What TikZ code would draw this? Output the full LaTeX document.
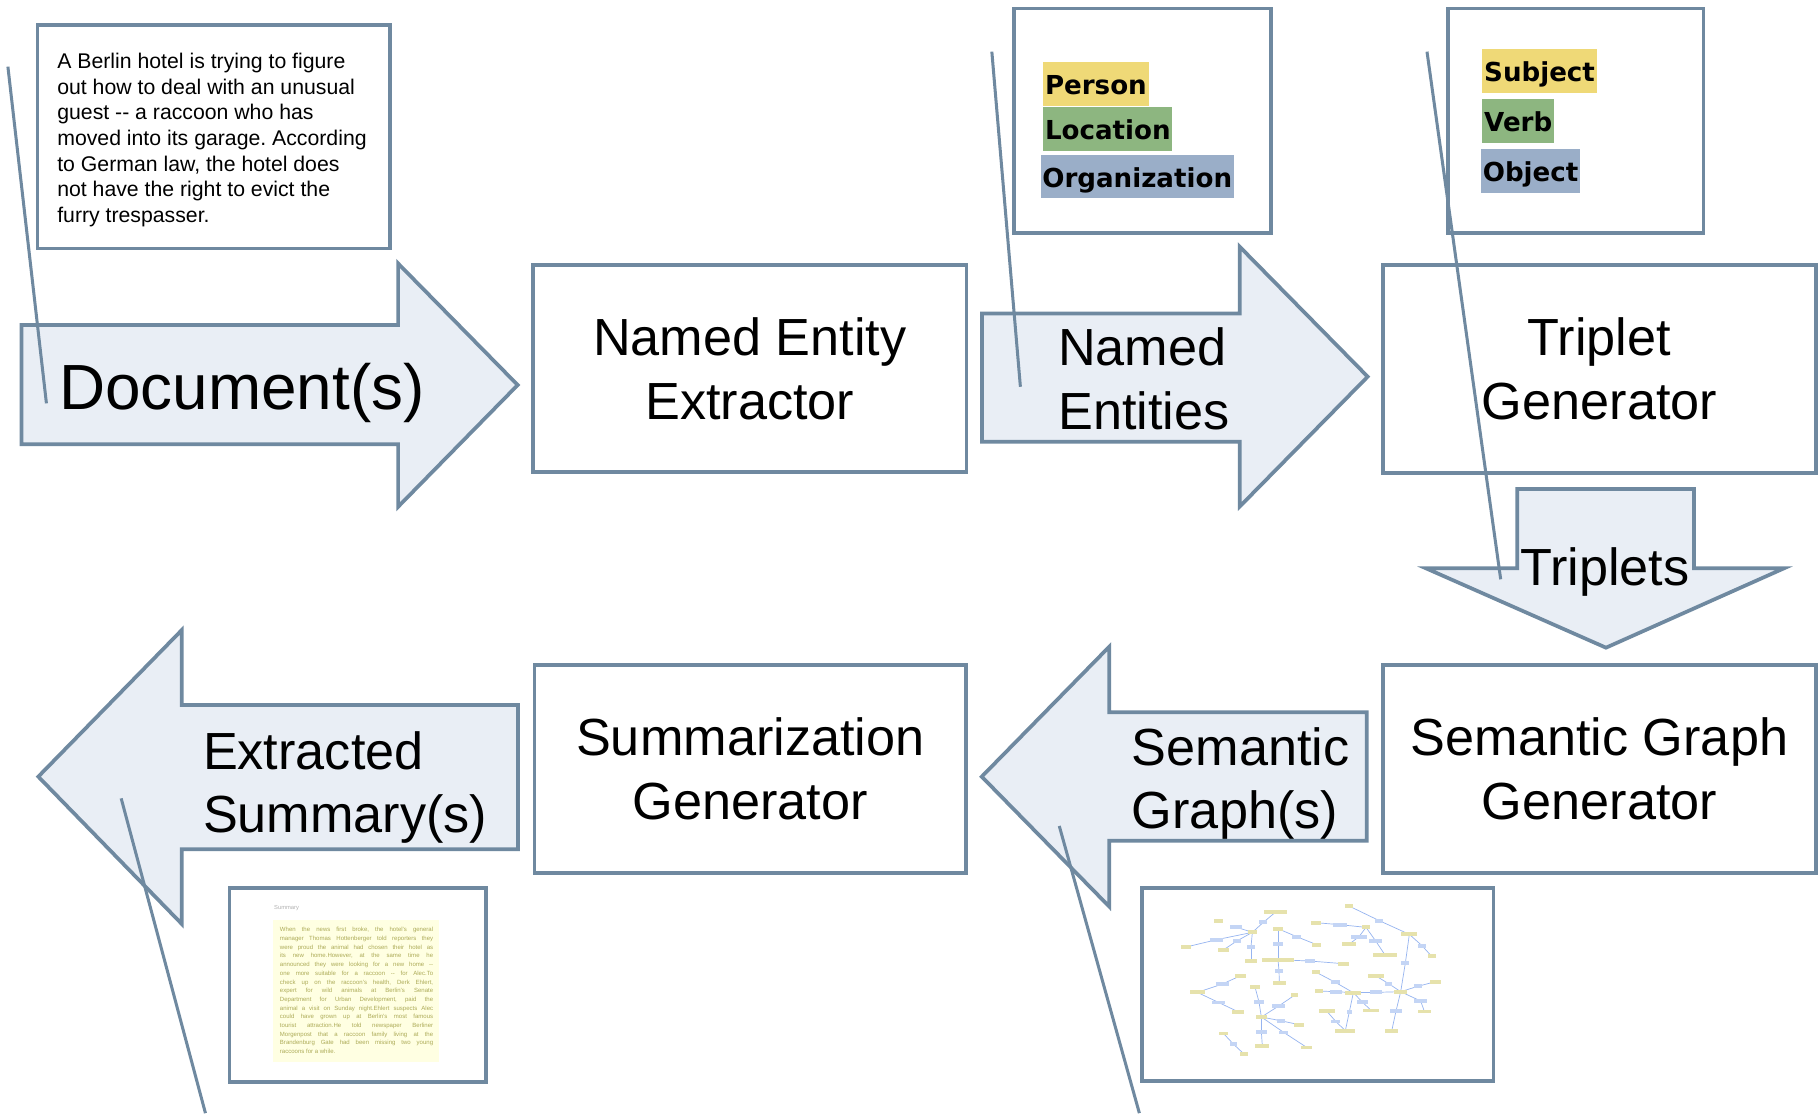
\documentclass[tikz,border=0pt]{standalone}
\usepackage{fontspec}
\setmainfont{Liberation Sans}
\newfontfamily\tagfont{DejaVu Sans}
\frenchspacing
\definecolor{slate}{RGB}{111,137,160}
\definecolor{arrowfill}{RGB}{233,238,245}
\definecolor{tagY}{RGB}{239,217,119}
\definecolor{tagG}{RGB}{141,182,128}
\definecolor{tagB}{RGB}{154,174,200}
\definecolor{sumbg}{RGB}{255,255,226}
\definecolor{sumtxt}{RGB}{172,170,86}
\definecolor{gY}{RGB}{230,226,172}
\definecolor{gB}{RGB}{196,213,245}
\definecolor{gE}{RGB}{150,180,240}
\newcommand{\sumln}[1]{\makebox[132pt][s]{#1}\\}
\begin{document}
\begin{tikzpicture}[x=1pt,y=-1pt,
  procbox/.style={draw=slate, line width=3.2pt, fill=white, inner sep=0pt, outer sep=0pt,
     align=center, font=\fontsize{45}{55}\selectfont},
  plainbox/.style={draw=slate, line width=3.2pt, fill=white, inner sep=0pt, outer sep=0pt},
  flowarrow/.style={draw=slate, line width=3.2pt, fill=arrowfill, line join=miter},
  arrowlabel/.style={inner sep=0pt, align=left, font=\fontsize{45}{54.5}\selectfont, anchor=north west},
  tagbox/.style={font=\tagfont\bfseries\fontsize{22.5}{22.5}\selectfont, inner xsep=1.5pt, inner ysep=0pt,
     text height=28pt, text depth=9.4pt, anchor=base west},
  callout/.style={draw=slate, line width=2.6pt},
  gy/.style={fill=gY, inner sep=0pt, minimum height=3.2pt},
  gb/.style={fill=gB, inner sep=0pt, minimum height=3.2pt},
  gedge/.style={draw=gE, line width=0.6pt}]

\fill[white] (0,0) rectangle (1568,959);
\useasboundingbox (0,0) rectangle (1568,959);

% ---------- top row ----------
\node[plainbox, minimum width=303.7pt, minimum height=192.5pt, anchor=north west] (docbox) at (32.3,21.5) {};
\node[inner sep=0pt, anchor=north west, align=left, font=\fontsize{18.3}{22.1}\selectfont] (doctext) at (49.2,45.6)
 {A Berlin hotel is trying to figure\\
  out how to deal with an unusual\\
  guest -{}- a raccoon who has\\
  moved into its garage. According\\
  to German law, the hotel does\\
  not have the right to evict the\\
  furry trespasser.};

\draw[flowarrow] (18.5,280) -- (343,280) -- (343,227) -- (446,331.7) -- (343,436.6) -- (343,382.7) -- (18.5,382.7) -- cycle;
\node[inner sep=0pt, anchor=base west, font=\fontsize{55}{66}\selectfont] (docs) at (50.8,352.6) {Document(s)};

\node[procbox, minimum width=373.1pt, minimum height=178.5pt] (nee) at (646.05,317.55) {Named Entity\\Extractor};

\node[plainbox, minimum width=221.3pt, minimum height=193.8pt] (netags) at (984.25,104.1) {};
\node[tagbox, fill=tagY] (tperson) at (898.6,81.8) {Person};
\node[tagbox, fill=tagG] (tlocation) at (898.6,120.6) {Location};
\node[tagbox, fill=tagB] (torg) at (896.3,161.4) {Organization};

\draw[flowarrow] (846,270) -- (1068,270) -- (1068,212.5) -- (1178.3,324.5) -- (1068,436.5) -- (1068,380.5) -- (846,380.5) -- cycle;
\node[arrowlabel] (nents) at (911.5,282.3) {Named\\Entities};

\node[plainbox, minimum width=220pt, minimum height=193.8pt] (trtags) at (1357.5,104.1) {};
\node[tagbox, fill=tagY] (tsubj) at (1277,70.4) {Subject};
\node[tagbox, fill=tagG] (tverb) at (1277,113.5) {Verb};
\node[tagbox, fill=tagB] (tobj) at (1275.8,156.5) {Object};

\node[procbox, minimum width=372.5pt, minimum height=178.9pt] (trg) at (1378,317.75) {Triplet\\Generator};

% ---------- down arrow ----------
\draw[flowarrow] (1307.2,421.3) -- (1459.5,421.3) -- (1459.5,489.6) -- (1537,489.6) -- (1383.6,558) -- (1228.5,489.6) -- (1307.2,489.6) -- cycle;
\node[inner sep=0pt, anchor=base, font=\fontsize{45}{55}\selectfont] (trips) at (1382.5,504) {Triplets};

% ---------- bottom row ----------
\node[procbox, minimum width=372.5pt, minimum height=179pt] (sgg) at (1378,662.5) {Semantic Graph\\Generator};

\draw[flowarrow] (1177.5,613.7) -- (955.7,613.7) -- (955.7,557.1) -- (845.8,669.1) -- (955.7,781.1) -- (955.7,724.3) -- (1177.5,724.3) -- cycle;
\node[arrowlabel] (sgraphs) at (975,626.3) {Semantic\\Graph(s)};

\node[procbox, minimum width=372pt, minimum height=178.9pt] (sumg) at (646.4,662.45) {Summarization\\Generator};

\draw[flowarrow] (446.2,607.4) -- (156.6,607.4) -- (156.6,542.8) -- (33,669.1) -- (156.6,796) -- (156.6,731.7) -- (446.2,731.7) -- cycle;
\node[arrowlabel] (exsum) at (174.7,630.3) {Extracted\\Summary(s)};

% ---------- summary thumbnail ----------
\node[plainbox, minimum width=220.9pt, minimum height=166.7pt] (sumimg) at (308.25,848.65) {};
\node[anchor=west, inner sep=0pt, font=\fontsize{5}{6}\selectfont, text=black!30] (sumlabel) at (236,782) {Summary};
\node[fill=sumbg, minimum width=142.5pt, minimum height=122pt, inner sep=0pt] (sumbg) at (306.75,854) {};
\node[anchor=north west, inner sep=0pt, align=left, text=sumtxt, font=\fontsize{5.2}{7.5}\selectfont] (sumtext) at (241,798.8) {%
\sumln{When the news first broke, the hotel's general}
\sumln{manager Thomas Hottenberger told reporters they}
\sumln{were proud the animal had chosen their hotel as}
\sumln{its new home.However, at the same time he}
\sumln{announced they were looking for a new home -{}-}
\sumln{one more suitable for a raccoon -{}- for Alec.To}
\sumln{check up on the raccoon's health, Derk Ehlert,}
\sumln{expert for wild animals at Berlin's Senate}
\sumln{Department for Urban Development, paid the}
\sumln{animal a visit on Sunday night.Ehlert suspects Alec}
\sumln{could have grown up at Berlin's most famous}
\sumln{tourist attraction.He told newspaper Berliner}
\sumln{Morgenpost that a raccoon family living at the}
\sumln{Brandenburg Gate had been missing two young}
raccoons for a while.};

% ---------- graph thumbnail ----------
\node[plainbox, minimum width=303pt, minimum height=165.8pt] (graphimg) at (1135.1,848.2) {};
\begin{scope}[shift={(964.92,749.54)}, scale=0.28718]
\foreach \i/\px/\py in {
1/467/126, 2/430/157, 3/296/153, 4/348/171, 5/397/187,
6/290/209, 7/198/231, 8/352/212, 9/311/239, 10/393/230,
11/393/272, 12/474/176, 13/474/222, 14/530/200, 15/590/224,
16/474/269, 17/570/273, 18/670/281, 19/477/303, 20/478/340,
21/687/108, 22/778/152, 23/868/193, 24/906/227, 25/935/259,
26/856/279, 27/588/158, 28/660/164, 29/738/172, 30/717/200,
31/688/222, 32/767/213, 33/795/255, 34/362/317, 35/307/342,
36/232/367, 37/295/397, 38/354/425, 39/405/351, 40/417/396,
41/476/408, 42/523/376, 43/424/441, 44/482/452, 45/537/464,
46/424/485, 47/491/487, 48/427/528, 49/560/532, 50/310/490,
51/340/522, 52/372/552, 53/589/307, 54/646/337, 55/596/363,
56/648/365, 57/700/368, 58/768/367, 59/842/365, 60/768/318,
61/806/341, 62/893/349, 63/946/335, 64/727/396, 65/753/421,
66/688/425, 67/620/423, 68/647/454, 69/676/482, 70/828/423,
71/902/393, 72/913/424, 73/815/483}
  {\coordinate (gp\i) at (\px,\py);}
\foreach \a/\b in {1/2, 2/5, 4/5, 6/5, 7/6, 8/5, 9/8, 10/5, 10/11, 12/14, 14/15, 12/13, 13/16,
  16/17, 17/18, 16/19, 19/20, 21/22, 22/23, 23/24, 24/25, 23/26, 26/59, 27/28, 28/29, 29/30,
  30/31, 29/32, 32/33, 34/35, 35/36, 36/37, 37/38, 39/40, 40/43, 41/42, 41/43, 43/44, 44/45,
  43/46, 46/48, 43/47, 47/49, 50/51, 51/52, 53/54, 54/57, 55/56, 56/57, 57/58, 58/59, 60/61,
  61/59, 59/62, 62/63, 57/64, 64/65, 57/66, 66/69, 67/68, 68/69, 59/70, 70/73, 59/71, 71/72}
  {\draw[gedge] (gp\a) -- (gp\b);}
\foreach \i/\s/\w in {
1/gy/20, 2/gb/7, 3/gy/8, 4/gb/11, 5/gy/8, 6/gb/11, 7/gy/9, 8/gb/7, 9/gy/10, 10/gb/7,
11/gy/10, 12/gy/8, 13/gb/9, 14/gb/8, 15/gy/8, 16/gy/28, 17/gb/9, 18/gy/9, 19/gb/7, 20/gy/11,
21/gy/7, 22/gb/7, 23/gy/14, 24/gb/7, 25/gy/7, 26/gb/7, 27/gy/9, 28/gb/12, 29/gy/7, 30/gb/13,
31/gy/12, 32/gb/11, 33/gy/20, 34/gy/10, 35/gb/11, 36/gy/13, 37/gb/11, 38/gy/11, 39/gy/8, 40/gb/8,
41/gb/11, 42/gy/6, 43/gy/10, 44/gb/7, 45/gy/9, 46/gb/10, 47/gb/8, 48/gy/12, 49/gy/10, 50/gy/8,
51/gb/6, 52/gy/7, 53/gy/7, 54/gb/8, 55/gy/7, 56/gb/10, 57/gy/14, 58/gb/11, 59/gy/11, 60/gy/14,
61/gb/6, 62/gb/7, 63/gy/10, 64/gb/9, 65/gy/14, 66/gb/4, 67/gy/14, 68/gb/8, 69/gy/17, 70/gb/11,
71/gb/11, 72/gy/11, 73/gy/11}
  {\node[\s, minimum width=\w pt] (g\i) at (gp\i) {};}
\end{scope}

% ---------- callout pointers ----------
\coordinate (c1a) at (6.8,57.4);    \coordinate (c1b) at (40,347.5);
\coordinate (c2a) at (854.5,44.5);  \coordinate (c2b) at (879.1,333.2);
\coordinate (c3a) at (1229.4,44.5); \coordinate (c3b) at (1292.9,499.1);
\coordinate (c4a) at (104.4,687.8); \coordinate (c4b) at (177,959);
\coordinate (c5a) at (912.6,711.6); \coordinate (c5b) at (981.6,959);
\draw[callout] (c1a) -- (c1b);
\draw[callout] (c2a) -- (c2b);
\draw[callout] (c3a) -- (c3b);
\draw[callout] (c4a) -- (c4b);
\draw[callout] (c5a) -- (c5b);
\end{tikzpicture}
\end{document}
